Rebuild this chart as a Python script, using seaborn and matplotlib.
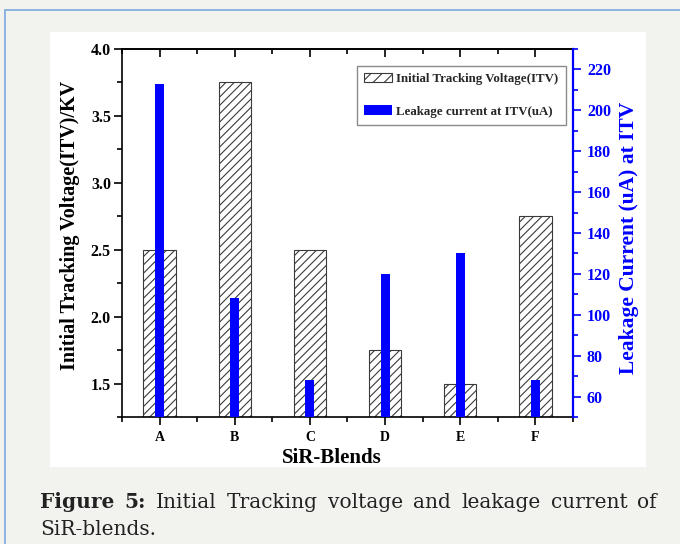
import matplotlib
matplotlib.use("Agg")
import matplotlib.pyplot as plt
import seaborn as sns
import pandas as pd
from matplotlib.patches import Patch, Rectangle
from matplotlib.ticker import FixedLocator, MultipleLocator

# Data
blends = ["A", "B", "C", "D", "E", "F"]
itv_kv = [2.5, 3.75, 2.5, 1.75, 1.5, 2.75]
leakage_ua = [213, 108, 68, 120, 130, 68]
itv_label = "Initial Tracking Voltage(ITV)"
leak_label = "Leakage current at ITV(uA)"

sns.set_theme(style="ticks")
plt.rcParams["font.family"] = ["Liberation Serif", "DejaVu Serif"]
plt.rcParams["font.weight"] = "bold"
plt.rcParams["hatch.linewidth"] = 0.8

W, H = 680, 544
fig = plt.figure(figsize=(W / 100, H / 100), dpi=100)
fig.patch.set_facecolor("#f2f2ee")


def box(x0, y0, x1, y1):
    return [x0 / W, 1 - y1 / H, (x1 - x0) / W, (y1 - y0) / H]


# page frame and white figure panel
fig.add_artist(Rectangle((5 / W, -0.2), 1.2, 1.2 - 10 / H, transform=fig.transFigure,
                         fill=False, edgecolor="#7aa8dc", lw=1.2, zorder=-2))
fig.add_artist(Rectangle((50 / W, 1 - 467 / H), (646 - 50) / W, (467 - 32) / H,
                         transform=fig.transFigure, facecolor="white",
                         edgecolor="none", zorder=-1))

df = pd.DataFrame({"blend": blends, "itv": itv_kv, "leak": leakage_ua})

ax = fig.add_axes(box(122, 49, 573, 417))
sns.barplot(data=df, x="blend", y="itv", ax=ax, color="white", saturation=1,
            edgecolor="#3a3a3a", linewidth=0.8, hatch="////", width=0.43)

ax2 = ax.twinx()
sns.barplot(data=df, x="blend", y="leak", ax=ax2, color="blue", saturation=1,
            linewidth=0, width=0.12)

ax.set_xlim(-0.5, 5.5)
ax2.set_xlim(-0.5, 5.5)
ax.set_ylim(1.25, 4.0)
ax2.set_ylim(50, 230)

# left axis
ax.yaxis.set_major_locator(MultipleLocator(0.5))
ax.yaxis.set_minor_locator(MultipleLocator(0.25))
ax.set_yticks([1.5, 2.0, 2.5, 3.0, 3.5, 4.0])
ax.tick_params(axis="y", which="major", direction="out", length=6, width=1.2,
               colors="black", labelsize=11.5, left=True, pad=2)
ax.tick_params(axis="y", which="minor", direction="out", length=3.5, width=1.2,
               colors="black", left=True)

# bottom axis
ax.xaxis.set_minor_locator(FixedLocator([i - 0.5 for i in range(7)]))
ax.tick_params(axis="x", which="major", direction="out", length=6, width=1.2,
               colors="black", labelsize=10, bottom=True, pad=4)
ax.tick_params(axis="x", which="minor", direction="out", length=3.5, width=1.2,
               colors="black", bottom=True)

# top axis: inward ticks only
top = ax.secondary_xaxis("top")
top.set_xticks(range(len(blends)))
top.xaxis.set_minor_locator(FixedLocator([i - 0.5 for i in range(7)]))
top.tick_params(axis="x", which="major", direction="in", length=6, width=1.2,
                colors="black", labeltop=False)
top.tick_params(axis="x", which="minor", direction="in", length=3.5, width=1.2,
                colors="black")
top.spines["top"].set_linewidth(1.2)
top.spines["top"].set_color("black")

# right axis
ax2.yaxis.set_major_locator(MultipleLocator(20))
ax2.yaxis.set_minor_locator(MultipleLocator(10))
ax2.set_yticks(list(range(60, 221, 20)))
ax2.tick_params(axis="y", which="major", direction="out", length=6, width=1.2,
                colors="blue", labelsize=11.5, right=True, pad=4)
ax2.tick_params(axis="y", which="minor", direction="out", length=3.5, width=1.2,
                colors="blue", right=True)

for name in ("left", "bottom", "top"):
    ax.spines[name].set_color("black")
    ax.spines[name].set_linewidth(1.2)
    ax2.spines[name].set_visible(False)
ax.spines["right"].set_visible(False)
ax2.spines["right"].set_color("blue")
ax2.spines["right"].set_linewidth(1.6)

ax.set_xlabel("SiR-Blends", fontsize=15, fontweight="bold", color="black")
ax.xaxis.set_label_coords(0.466, -0.085)
ax.set_ylabel("Initial Tracking Voltage(ITV)/KV", fontsize=14.5, fontweight="bold",
              color="black")
ax.yaxis.set_label_coords(-0.093, 0.52)
ax2.set_ylabel("Leakage Current (uA) at ITV", fontsize=15.5, fontweight="bold",
               color="blue")
ax2.yaxis.set_label_coords(1.102, 0.486)

handles = [
    Patch(facecolor="white", edgecolor="#3a3a3a", hatch="///", lw=0.8, label=itv_label),
    Patch(facecolor="blue", edgecolor="blue", lw=0, label=leak_label),
]
ax2.legend(handles=handles, loc="upper left", bbox_to_anchor=(0.521, 0.954),
           prop={"size": 9.3, "weight": "bold"}, frameon=True, fancybox=False,
           edgecolor="#8a8a8a", framealpha=1, labelspacing=1.55, handlelength=2.2,
           handleheight=0.75, handletextpad=0.3, borderpad=0.55, borderaxespad=0)

# caption, justified on its first line
cap_font = dict(family="DejaVu Serif", fontsize=14.5, color="#222222")
line1 = [("Figure", "bold"), ("5:", "bold"), ("Initial", "normal"), ("Tracking", "normal"),
         ("voltage", "normal"), ("and", "normal"), ("leakage", "normal"),
         ("current", "normal"), ("of", "normal")]
renderer = fig.canvas.get_renderer()
texts, widths = [], []
for word, weight in line1:
    t = fig.text(0, 1 - 508 / H, word, fontweight=weight, va="baseline", **cap_font)
    texts.append(t)
    widths.append(t.get_window_extent(renderer).width)
left_px, right_px = 40, 657
gap = (right_px - left_px - sum(widths)) / (len(line1) - 1)
x = left_px
for t, w in zip(texts, widths):
    t.set_x(x / W)
    x += w + gap
fig.text(left_px / W, 1 - 535 / H, "SiR-blends.", fontweight="normal", va="baseline",
         **cap_font)

fig.savefig("out.png", dpi=100, facecolor=fig.get_facecolor())
